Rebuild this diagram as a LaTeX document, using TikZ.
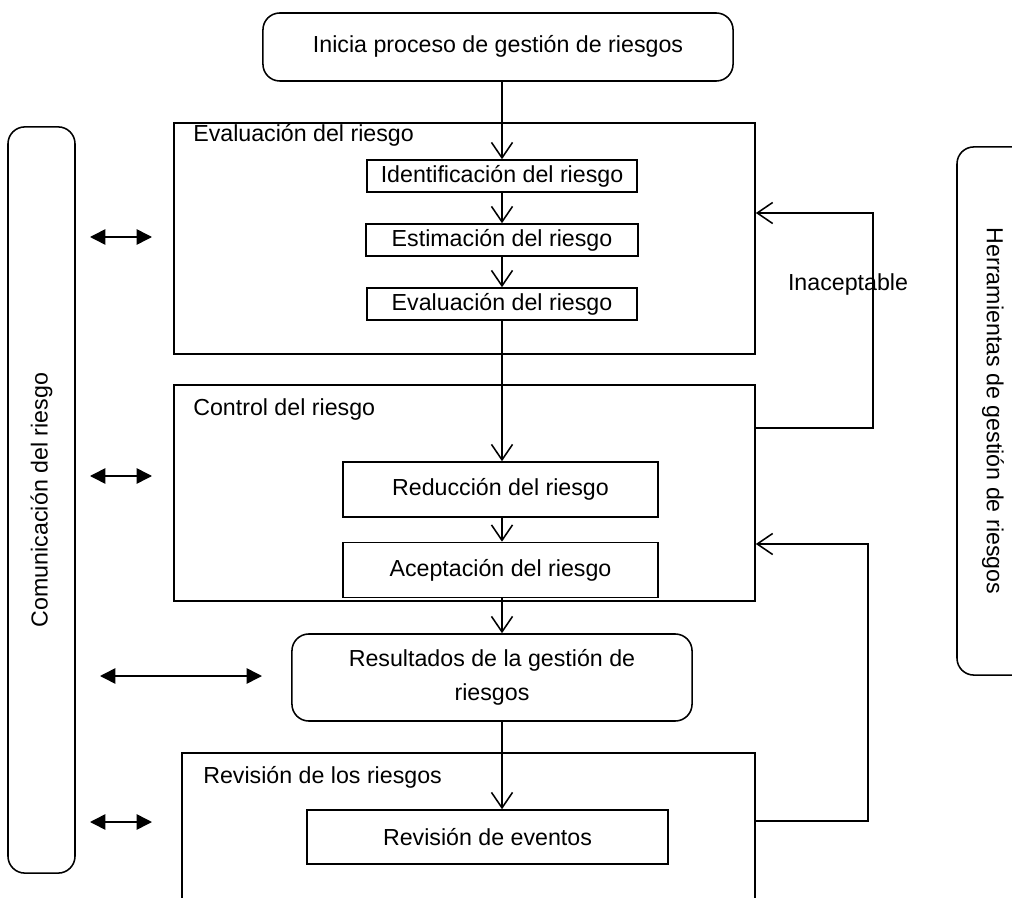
\documentclass[tikz,border=0pt]{standalone}
\usepackage{fontspec}
\setmainfont{Liberation Sans}
\usetikzlibrary{arrows.meta}
\tikzset{
        caja/.style={draw, line width=1.1pt, inner sep=0pt, font=\fontsize{16.5}{24}\selectfont},
        redonda/.style={caja, rounded corners=12pt},
        texto/.style={inner sep=0pt, font=\fontsize{16.5}{24}\selectfont},
        flecha/.style={line width=1.1pt, -{Straight Barb[length=11pt,width=15pt]}},
        doble/.style={line width=1.1pt, {Triangle[length=11pt,width=11pt]}-{Triangle[length=11pt,width=11pt]}},
}
\begin{document}
\begin{tikzpicture}[x=0.025cm, y=-0.025cm]
        \useasboundingbox (0,0) rectangle (1012,898);
        \coordinate (spine) at (502,0);

        \node[redonda, minimum width=11.75cm, minimum height=1.7cm] (inicio) at (498,47) {\raisebox{4pt}{Inicia proceso de gestión de riesgos}};

        \node[caja, minimum width=14.525cm, minimum height=5.775cm] (evalbox) at (464.5,238.5) {};
        \node[texto, anchor=west] (evaltit) at (193,135) {Evaluación del riesgo};
        \node[caja, minimum width=6.75cm, minimum height=0.8cm] (ident) at (502,176) {Identificación del riesgo};
        \node[caja, minimum width=6.8cm, minimum height=0.8cm] (estim) at (502,240) {Estimación del riesgo};
        \node[caja, minimum width=6.75cm, minimum height=0.8cm] (evalin) at (502,304) {Evaluación del riesgo};

        \node[caja, minimum width=14.525cm, minimum height=5.4cm] (ctrlbox) at (464.5,493) {};
        \node[texto, anchor=west] (ctrltit) at (193,410) {Control del riesgo};
        \node[caja, minimum width=7.875cm, minimum height=1.375cm] (reduc) at (500.5,489.5) {Reducción del riesgo};
        \node[caja, minimum width=7.875cm, minimum height=1.375cm] (acept) at (500.5,570) {Aceptación del riesgo};

        \node[redonda, minimum width=10cm, minimum height=2.175cm, align=center] (result) at (492,677.5) {Resultados de la gestión de\\riesgos};

        \node[caja, minimum width=14.325cm, minimum height=5.175cm] (revbox) at (468.5,856.5) {};
        \node[texto, anchor=west] (revtit) at (203,777) {Revisión de los riesgos};
        \node[caja, minimum width=9.025cm, minimum height=1.35cm] (reveven) at (487.5,837) {Revisión de eventos};

        % laterales
        \node[redonda, rotate=90, minimum width=18.65cm, minimum height=1.675cm] (comunic) at (41.5,500) {Comunicación del riesgo};
        \node[redonda, minimum width=2.575cm, minimum height=13.2cm] (herram) at (1008.5,411) {};
        \node[texto, rotate=-90] (herrtxt) at (993,411) {Herramientas de gestión de riesgos};

        % flujo principal
        \draw[flecha] (inicio.south -| spine) -- (ident.north -| spine);
        \draw[flecha] (ident.south -| spine) -- (estim.north -| spine);
        \draw[flecha] (estim.south -| spine) -- (evalin.north -| spine);
        \draw[flecha] (evalin.south -| spine) -- (reduc.north -| spine);
        \draw[flecha] (reduc.south -| spine) -- (acept.north -| spine);
        \draw[flecha] (acept.south -| spine) -- (result.north -| spine);
        \draw[flecha] (result.south -| spine) -- (reveven.north -| spine);

        % retornos
        \coordinate (ret1) at (873,428);
        \coordinate (ret1b) at (873,213);
        \draw[flecha] (ctrlbox.east |- ret1) -- (ret1) -- (ret1b) -- (evalbox.east |- ret1b);
        \node[texto] (inacep) at (848,285) {Inaceptable};
        \coordinate (ret2) at (868,821);
        \coordinate (ret2b) at (868,544);
        \draw[flecha] (revbox.east |- ret2) -- (ret2) -- (ret2b) -- (ctrlbox.east |- ret2b);

        % comunicacion
        \foreach \y/\xa/\xb in {237/90/152, 476/90/152, 676/100/262, 822/90/152} {
                \coordinate (izq\y) at (\xa,\y);
                \coordinate (der\y) at (\xb,\y);
                \draw[doble] (izq\y) -- (der\y);
            }
\end{tikzpicture}
\end{document}
